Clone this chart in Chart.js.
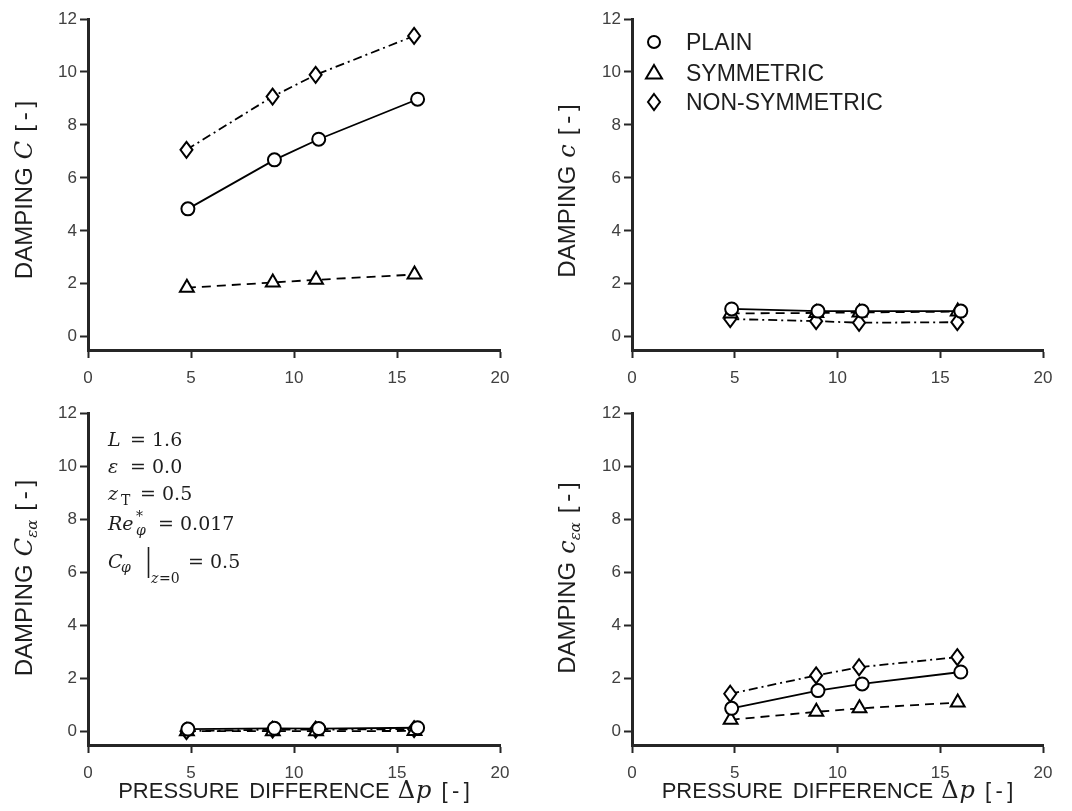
<!DOCTYPE html>
<html>
<head>
<meta charset="utf-8">
<script src="https://cdn.jsdelivr.net/npm/chart.js@4.4.1/dist/chart.umd.min.js"></script>
<style>
  html, body { margin: 0; padding: 0; background: #fff; }
  #wrap { position: relative; width: 1072px; height: 811px; }
  canvas { position: absolute; }
</style>
</head>
<body>
<div id="wrap">
  <canvas id="tl" width="536" height="400" style="left:0;top:0"></canvas>
  <canvas id="tr" width="536" height="400" style="left:536px;top:0"></canvas>
  <canvas id="bl" width="536" height="411" style="left:0;top:400px"></canvas>
  <canvas id="br" width="536" height="411" style="left:536px;top:400px"></canvas>
</div>
<script>
// pressure difference of each measured point
const dpPlain = [4.85, 9.05, 11.2, 16.0]
const dpSym = [4.8, 8.97, 11.07, 15.85]
const dpNonSym = [4.78, 8.96, 11.05, 15.83]

// damping C (top left)
const dampCPlain = [4.83, 6.68, 7.46, 8.97]
const dampCSym = [1.85, 2.05, 2.15, 2.35]
const dampCNonSym = [7.06, 9.07, 9.89, 11.36]

// damping c (top right)
const dampcPlain = [1.05, 0.97, 0.97, 0.97]
const dampcSym = [0.88, 0.9, 0.92, 0.95]
const dampcNonSym = [0.67, 0.59, 0.53, 0.55]

// damping C_ea (bottom left)
const dampCeaPlain = [0.1, 0.13, 0.12, 0.15]
const dampCeaSym = [0.02, 0.02, 0.02, 0.03]
const dampCeaNonSym = [0.02, 0.08, 0.08, 0.1]

// damping c_ea (bottom right)
const dampceaPlain = [0.88, 1.55, 1.8, 2.25]
const dampceaSym = [0.45, 0.75, 0.88, 1.1]
const dampceaNonSym = [1.43, 2.12, 2.43, 2.81]

const seriesNames = ["PLAIN", "SYMMETRIC", "NON-SYMMETRIC"]
const xTicks = [0, 5, 10, 15, 20]
const yTicks = [0, 2, 4, 6, 8, 10, 12]

const SANS = '"Liberation Sans", Arial, sans-serif'
const SERIF = '"DejaVu Serif", "Liberation Serif", serif'
const AXIS = "#262626"
const TICK = "#404040"
const INK = "#1e1e1e"
const MARKERS = ["circle", "triangle", "diamond"]

function marker(ctx, style, x, y) {
  ctx.beginPath()
  if (style === "circle") {
    ctx.arc(x, y, 6, 0, Math.PI * 2)
  } else if (style === "triangle") {
    ctx.moveTo(x, y - 8); ctx.lineTo(x + 8, y + 5.5); ctx.lineTo(x - 8, y + 5.5)
  } else {
    ctx.moveTo(x, y - 8); ctx.lineTo(x + 6, y); ctx.lineTo(x, y + 8); ctx.lineTo(x - 6, y)
  }
  ctx.closePath()
  ctx.fillStyle = "#fff"; ctx.fill()
  ctx.lineWidth = 2; ctx.strokeStyle = "#000"; ctx.stroke()
}

// draw a run of text pieces, each with its own font and offsets
function runsWidth(ctx, runs) {
  let w = 0
  for (const r of runs) { ctx.font = r.f; w += (r.dx || 0) + ctx.measureText(r.t).width }
  return w
}
function drawRuns(ctx, runs, x, y) {
  let cx = x
  for (const r of runs) {
    cx += r.dx || 0
    ctx.font = r.f
    ctx.fillText(r.t, cx, y + (r.dy || 0))
    cx += ctx.measureText(r.t).width
  }
}

function points(xs, ys) {
  return xs.map((x, i) => ({ x: x, y: ys[i] }))
}

// Chart.js has no tall diamond, so the third series gets its markers drawn
// at the positions the line controller computed
const diamondPlugin = {
  id: "tallDiamond",
  afterDatasetDraw(chart, args) {
    if (args.index !== 2) return
    const ctx = chart.ctx
    ctx.save()
    args.meta.data.forEach(pt => marker(ctx, "diamond", pt.x, pt.y))
    ctx.restore()
  }
}

const textPlugin = {
  id: "panelText",
  afterDraw(chart, args, opts) {
    const ctx = chart.ctx
    const area = chart.chartArea
    ctx.save()
    ctx.fillStyle = INK
    ctx.textBaseline = "alphabetic"
    ctx.textAlign = "left"

    // rotated y title
    ctx.save()
    ctx.translate(opts.yTitleX, opts.yTitleY)
    ctx.rotate(-Math.PI / 2)
    drawRuns(ctx, opts.yTitle, -runsWidth(ctx, opts.yTitle) / 2, 0)
    ctx.restore()

    if (opts.xTitle) {
      const runs = [
        { t: "PRESSURE", f: "22px " + SANS },
        { t: "DIFFERENCE", f: "22px " + SANS, dx: 10 },
        { t: "Δ", f: "24px " + SERIF, dx: 8 },
        { t: "p", f: "italic 24px " + SERIF, dx: 1 },
        { t: "[\u2009-\u2009]", f: "22px " + SANS, dx: 10 }
      ]
      const cx = (area.left + area.right) / 2
      drawRuns(ctx, runs, cx - runsWidth(ctx, runs) / 2, 398)
    }

    if (opts.legend) {
      const rows = [42, 73, 102]
      chart.data.datasets.forEach((ds, i) => {
        marker(ctx, MARKERS[i], 118, rows[i])
        ctx.fillStyle = INK
        ctx.font = "23px " + SANS
        ctx.fillText(ds.label, 150, rows[i] + 8)
      })
    }

    if (opts.notes) {
      const R = "19px " + SERIF, I = "italic 19px " + SERIF
      const RS = "14px " + SERIF, IS = "italic 14px " + SERIF
      const pieces = [
        ["L", I, 108, 46], ["=", R, 130, 46], ["1.6", R, 152, 46],
        ["ε", I, 108, 73], ["=", R, 130, 73], ["0.0", R, 152, 73],
        ["z", I, 108, 100], ["T", RS, 121, 105], ["=", R, 140, 100], ["0.5", R, 162, 100],
        ["Re", I, 108, 130], ["*", RS, 136, 121], ["φ", IS, 136, 135], ["=", R, 158, 130], ["0.017", R, 180, 130],
        ["C", I, 108, 168], ["φ", IS, 121, 172], ["z", IS, 151, 183], ["=0", RS, 159, 183],
        ["=", R, 188, 168], ["0.5", R, 210, 168]
      ]
      for (const [t, f, x, y] of pieces) { ctx.font = f; ctx.fillText(t, x, y) }
      ctx.beginPath()
      ctx.moveTo(148.5, 147); ctx.lineTo(148.5, 178)
      ctx.lineWidth = 1.6; ctx.strokeStyle = INK; ctx.stroke()
    }
    ctx.restore()
  }
}

function panel(id, cfg) {
  const sets = [
    { label: seriesNames[0], data: points(dpPlain, cfg.plain), pointStyle: "circle", pointRadius: 6.5, borderDash: [] },
    { label: seriesNames[1], data: points(dpSym, cfg.sym), pointStyle: "triangle", pointRadius: 8, borderDash: [9, 6] },
    { label: seriesNames[2], data: points(dpNonSym, cfg.nonSym), pointStyle: "rectRot", pointRadius: 0, borderDash: [9, 4, 2, 4] }
  ].map(d => Object.assign(d, {
    borderColor: "#000",
    borderWidth: 1.8,
    pointBackgroundColor: "#fff",
    pointBorderColor: "#000",
    pointBorderWidth: 2,
    fill: false,
    tension: 0
  }))

  return new Chart(document.getElementById(id), {
    type: "line",
    data: { datasets: sets },
    plugins: [diamondPlugin, textPlugin],
    options: {
      responsive: false,
      animation: false,
      events: [],
      devicePixelRatio: 1,
      layout: { padding: { left: 0, top: cfg.top, right: cfg.right, bottom: 0 } },
      plugins: {
        legend: { display: false },
        tooltip: { enabled: false },
        panelText: {
          yTitle: cfg.yTitle, yTitleX: cfg.yTitleX, yTitleY: cfg.yTitleY,
          xTitle: cfg.xTitle, legend: cfg.legend, notes: cfg.notes
        }
      },
      scales: {
        x: {
          type: "linear", min: 0, max: 20,
          afterBuildTicks: s => { s.ticks = xTicks.map(v => ({ value: v })) },
          afterFit: s => { s.height = cfg.xH },
          border: { display: true, color: AXIS, width: 3 },
          grid: { drawOnChartArea: false, drawTicks: true, tickLength: 8, tickWidth: 2, tickColor: AXIS },
          ticks: { color: TICK, font: { family: SANS, size: 17 }, padding: 10, maxRotation: 0 }
        },
        y: {
          type: "linear", min: -0.5, max: 12,
          afterBuildTicks: s => { s.ticks = yTicks.map(v => ({ value: v })) },
          afterFit: s => { s.width = cfg.yW },
          border: { display: true, color: AXIS, width: 3 },
          grid: { drawOnChartArea: false, drawTicks: true, tickLength: 8, tickWidth: 2, tickColor: AXIS },
          ticks: { color: TICK, font: { family: SANS, size: 17 }, padding: 3 }
        }
      }
    }
  })
}

function yTitle(letter, sub) {
  const runs = [
    { t: "DAMPING", f: "24px " + SANS },
    { t: letter, f: "italic 24px " + SERIF, dx: 8 }
  ]
  if (sub) runs.push({ t: sub, f: "italic 15px " + SERIF, dy: 5 })
  runs.push({ t: "[\u2009-\u2009]", f: "24px " + SANS, dx: 9 })
  return runs
}

panel("tl", {
  plain: dampCPlain, sym: dampCSym, nonSym: dampCNonSym,
  top: 19, right: 36, yW: 88, xH: 50,
  yTitle: yTitle("C"), yTitleX: 32, yTitleY: 190
})
panel("tr", {
  plain: dampcPlain, sym: dampcSym, nonSym: dampcNonSym,
  top: 19, right: 29, yW: 96, xH: 50,
  yTitle: yTitle("c"), yTitleX: 39, yTitleY: 191, legend: true
})
panel("bl", {
  plain: dampCeaPlain, sym: dampCeaSym, nonSym: dampCeaNonSym,
  top: 13, right: 36, yW: 88, xH: 66,
  yTitle: yTitle("C", "εα"), yTitleX: 32, yTitleY: 178, xTitle: true, notes: true
})
panel("br", {
  plain: dampceaPlain, sym: dampceaSym, nonSym: dampceaNonSym,
  top: 13, right: 29, yW: 96, xH: 66,
  yTitle: yTitle("c", "εα"), yTitleX: 39, yTitleY: 178, xTitle: true
})
</script>
</body>
</html>
